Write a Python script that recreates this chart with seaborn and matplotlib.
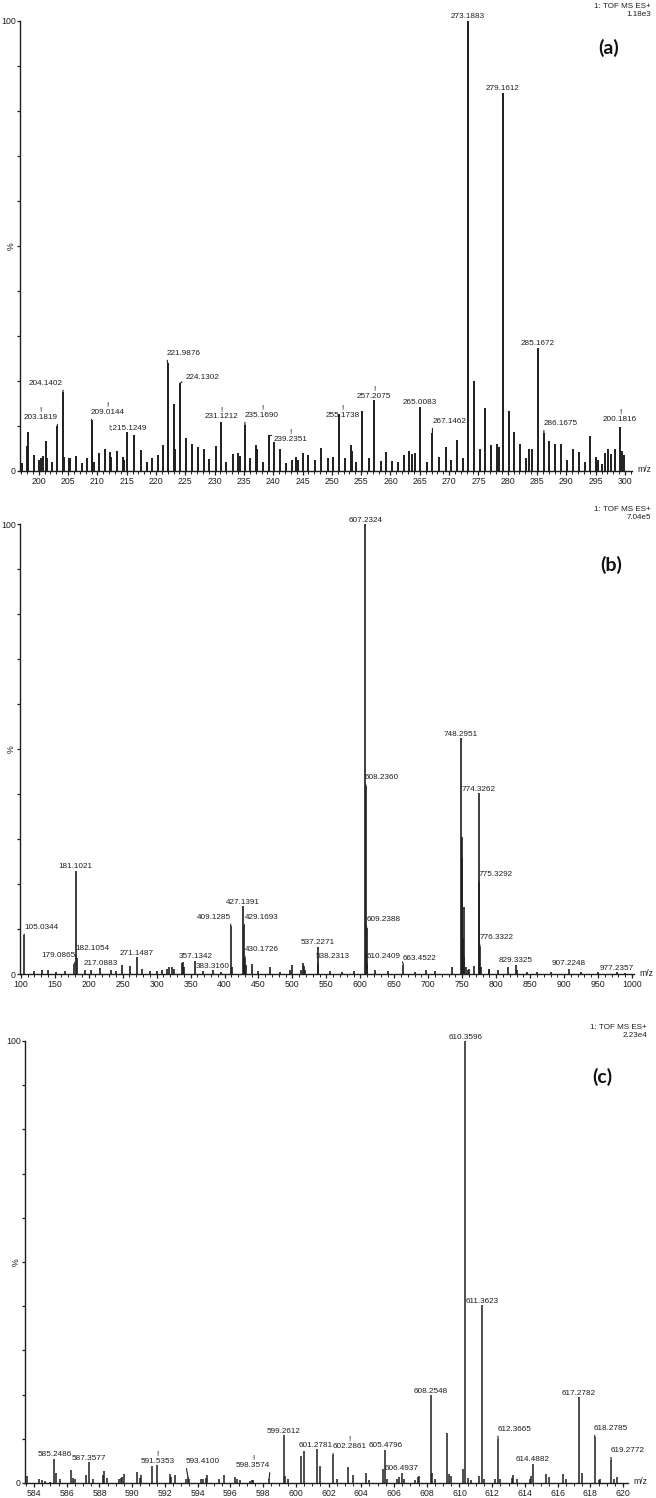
import matplotlib
matplotlib.use("Agg")
import matplotlib.pyplot as plt
import seaborn as sns
from matplotlib.ticker import MultipleLocator

# ---------------- panel (a) ----------------
a_mz = [197.2, 198.0, 198.1, 199.2, 200.0, 200.4, 200.8, 201.2, 201.4, 202.2,
        203.18, 204.14, 204.3, 205.1, 205.3, 206.3, 207.3, 208.3, 209.01, 209.1,
        209.4, 210.3, 211.3, 212.2, 212.4, 213.3, 214.3, 214.6, 215.12, 216.2,
        217.4, 218.4, 219.4, 220.4, 221.2, 221.99, 222.1, 223.0, 223.2, 224.13,
        225.2, 226.2, 227.2, 228.2, 229.1, 230.2, 231.12, 232.0, 233.2, 234.0,
        234.3, 235.17, 236.0, 237.1, 237.3, 238.2, 239.24, 240.2, 241.2, 242.1,
        243.2, 243.9, 244.2, 245.1, 246.0, 247.2, 248.2, 249.3, 250.2, 251.17,
        252.2, 253.2, 253.4, 254.2, 255.2, 256.3, 257.21, 258.3, 259.2, 260.3,
        261.3, 262.3, 263.2, 263.6, 264.1, 265.01, 266.3, 267.15, 268.3, 269.4,
        270.3, 271.3, 272.4, 273.19, 274.2, 275.2, 276.2, 277.2, 278.1, 278.5,
        279.16, 280.2, 281.1, 282.1, 283.2, 283.6, 284.2, 285.17, 286.17, 287.1,
        288.1, 289.1, 290.1, 291.1, 292.1, 293.1, 294.1, 295.1, 295.4, 296.1,
        296.6, 297.1, 297.6, 298.3, 299.18, 299.5, 299.9]
a_int = [1.7, 5.5, 8.7, 3.5, 2.4, 2.8, 3.3, 6.7, 2.8, 2.0,
         10.0, 17.6, 3.2, 2.8, 3.0, 3.3, 1.7, 2.8, 11.3, 5.5,
         2.0, 3.9, 5.0, 4.3, 3.2, 4.4, 3.2, 2.5, 8.7, 7.9,
         4.7, 2.1, 3.0, 3.6, 5.8, 24.0, 7.5, 15.0, 5.0, 19.5,
         7.3, 6.1, 5.4, 5.0, 2.6, 5.6, 11.0, 2.1, 3.8, 3.9,
         3.3, 10.2, 2.8, 5.8, 5.0, 2.1, 8.0, 6.5, 4.8, 1.7,
         2.4, 3.2, 2.5, 4.1, 3.6, 2.4, 5.2, 2.8, 3.2, 12.7,
         2.8, 5.8, 4.5, 2.1, 13.4, 2.8, 15.8, 2.2, 4.3, 2.2,
         2.1, 3.6, 4.4, 3.8, 3.9, 14.3, 2.1, 8.4, 3.2, 5.4,
         2.4, 7.0, 2.8, 100.0, 20.0, 5.0, 14.0, 5.8, 6.0, 5.3,
         84.0, 13.3, 8.6, 6.0, 3.0, 4.8, 5.0, 27.3, 8.4, 6.7,
         6.0, 6.0, 2.5, 4.8, 4.2, 2.0, 7.8, 3.2, 2.5, 1.5,
         4.0, 5.0, 3.8, 4.8, 9.7, 4.5, 3.5]
a_lab_mz = [203.18, 204.14, 209.01, 215.12, 221.99, 224.13, 231.12, 235.17,
            239.24, 251.17, 257.21, 265.01, 267.15, 273.19, 279.16, 285.17,
            286.17, 299.18]
a_lab_text = ["!\n203.1819", "204.1402", "!\n209.0144", "!;215.1249", "221.9876",
              "224.1302", "!\n231.1212", "!\n235.1690", "!\n239.2351",
              "!\n255.1738", "!\n257.2075", "265.0083", "267.1462", "273.1883",
              "279.1612", "285.1672", "286.1675", "!\n200.1816"]

# ---------------- panel (b) ----------------
b_mz = [105.03, 120, 131, 140, 152, 165, 179.09, 181.10, 182.11, 195, 203,
        217.09, 233, 240, 249, 261, 271.15, 279, 290, 300, 308, 315, 319, 323,
        326, 338, 339, 340, 357.13, 369, 383.32, 395, 409.13, 411, 427.14, 428,
        429.17, 430.17, 431, 440, 449, 467, 482, 497, 500, 513, 515, 517, 519,
        537.23, 538.23, 555, 573, 590, 607.23, 608.24, 609.24, 610.24, 622, 640,
        663.45, 680, 697, 710, 735, 748.30, 749.30, 750.30, 751.30, 752.30,
        753.30, 755, 758, 760, 767, 774.33, 775.33, 776.33, 777.3, 789, 790,
        803, 817, 829.33, 831, 845, 860, 880, 907.22, 925, 950, 977.24, 990]
b_int = [8.7, 0.6, 0.8, 1.0, 0.5, 0.6, 2.2, 23.0, 3.5, 0.8, 1.0,
         1.3, 0.8, 0.6, 2.0, 1.7, 3.8, 1.2, 0.6, 0.6, 1.0, 1.2, 1.6, 1.6,
         1.2, 2.5, 2.6, 1.5, 3.0, 0.6, 1.0, 0.5, 10.7, 1.5, 15.2, 3.0,
         10.6, 3.5, 2.0, 2.3, 0.6, 1.5, 0.5, 1.0, 2.0, 1.0, 2.4, 1.8, 1.0,
         6.0, 2.0, 0.6, 0.5, 0.6, 100.0, 41.8, 10.2, 2.0, 0.8, 0.6,
         2.0, 0.5, 0.8, 0.6, 1.5, 52.4, 25.8, 30.5, 8.0, 15.0,
         3.8, 1.5, 1.0, 1.2, 1.7, 40.2, 20.2, 6.0, 1.5, 1.2, 1.0,
         0.8, 1.5, 2.0, 1.0, 0.5, 0.5, 0.5, 1.2, 0.4, 0.4, 0.5, 0.3]
b_lab_mz = [105.03, 181.10, 182.11, 179.09, 217.09, 271.15, 357.13, 383.32,
            409.13, 427.14, 429.17, 430.17, 537.23, 538.23, 607.23, 608.24,
            609.24, 610.24, 663.45, 748.30, 774.33, 775.33, 776.33, 829.33,
            907.22, 977.24]
b_lab_text = ["105.0344", "181.1021", "182.1054", "179.0865", "217.0883",
              "271.1487", "357.1342", "383.3160", "409.1285", "427.1391",
              "429.1693", "430.1726", "537.2271", "538.2313", "607.2324",
              "608.2360", "609.2388", "610.2409", "663.4522", "748.2951",
              "774.3262", "775.3292", "776.3322", "829.3325", "907.2248",
              "977.2357"]

# ---------------- panel (c) ----------------
c_mz = [583.6, 584.3, 584.5, 584.7, 585.0, 585.25, 585.35, 585.6, 586.25, 586.4,
        586.5, 587.2, 587.36, 587.6, 588.2, 588.3, 588.45, 589.2, 589.3, 589.4,
        589.5, 590.3, 590.45, 590.55, 591.2, 591.54, 592.3, 592.4, 592.6, 593.3,
        593.41, 593.5, 594.2, 594.35, 594.5, 594.6, 595.3, 595.6, 596.3, 596.4,
        596.6, 597.2, 597.3, 597.4, 598.36, 599.26, 599.35, 599.5, 600.3, 600.5,
        601.28, 601.5, 602.29, 602.5, 603.2, 603.5, 604.3, 604.5, 605.3, 605.48,
        605.6, 606.2, 606.3, 606.49, 606.6, 607.3, 607.45, 607.5, 608.25, 608.35,
        608.5, 609.25, 609.35, 609.5, 610.2, 610.36, 610.5, 610.7, 611.2, 611.36,
        611.5, 612.2, 612.37, 612.5, 613.2, 613.3, 613.5, 614.3, 614.4, 614.49,
        615.3, 615.5, 616.3, 616.5, 617.28, 617.5, 618.28, 618.5, 618.6, 619.28,
        619.45, 619.6]
c_int = [1.5, 0.8, 0.6, 0.5, 0.3, 5.4, 2.3, 0.8, 3.0, 1.2,
         0.8, 1.7, 4.7, 0.9, 1.7, 2.8, 1.2, 0.8, 1.2, 1.3,
         2.0, 2.6, 1.2, 1.7, 3.8, 4.0, 2.0, 1.3, 1.8, 0.8,
         1.3, 1.0, 0.8, 1.0, 1.2, 1.7, 0.8, 1.7, 1.3, 0.9,
         0.6, 0.5, 0.6, 0.6, 0.8, 10.9, 1.5, 0.9, 6.2, 7.2,
         7.8, 3.8, 6.3, 1.0, 3.7, 1.8, 2.3, 0.7, 3.2, 7.5,
         1.0, 1.0, 1.3, 2.3, 0.8, 0.6, 1.3, 1.6, 19.9, 2.2,
         1.0, 11.3, 2.0, 1.5, 3.2, 100.0, 1.2, 0.6, 1.6, 40.3,
         1.0, 1.0, 10.0, 0.8, 1.2, 1.8, 0.8, 0.9, 1.5, 4.3,
         2.1, 1.4, 2.0, 1.0, 19.5, 2.3, 10.4, 0.6, 0.8, 5.2,
         1.0, 1.4]
c_lab_mz = [585.25, 587.36, 591.54, 593.41, 598.36, 599.26, 601.28, 602.29,
            605.48, 606.49, 608.25, 610.36, 611.36, 612.37, 614.49, 617.28,
            618.28, 619.28]
c_lab_text = ["585.2486", "587.3577", "!\n591.5353", "593.4100", "!\n598.3574",
              "599.2612", "601.2781", "!\n602.2861", "605.4796", "606.4937",
              "608.2548", "610.3596", "611.3623", "612.3665", "614.4882",
              "617.2782", "618.2785", "619.2772"]

headers = ["1: TOF MS ES+\n1.18e3", "1: TOF MS ES+\n7.04e5", "1: TOF MS ES+\n2.23e4"]
tags = ["(a)", "(b)", "(c)"]

# label placement: (dx px, dy px, connector start on text box or None)
a_lab_pos = [(-17, 5, (1, 0)), (-17, 5, (1, 0)), (16, 4, (0, 0)), (0, 1, None),
             (16, 6, (0, 0)), (22, 2, (0, 0.3)), (0, 1, None), (17, 6, (0, 0)),
             (22, -8, 'bracket'), (4, -5, None), (0, 0, None), (0, 1, None),
             (17, 8, (0, 0)), (0, 1, None), (0, 1, None), (0, 1, None),
             (17, 6, (0, 0)), (0, 4, None)]
b_lab_pos = [(17, 4, (0, 0)), (0, 0, None), (16, 6, (0, 0)), (-16, 5, (1, 0)),
             (0, 1, None), (0, 0, None), (0, 0, None), (0, 0, None),
             (-17, 5, (1, 0)), (0, 0, None), (17, 5, (0, 0)), (17, 5, (0, 0)),
             (0, 1, None), (14, 5, (0, 0)), (0, 0, None), (16, 5, (0, 0)),
             (17, 5, (0, 0)), (16, 5, (0, 0)), (16, 3, (0, 0)), (0, 0, None),
             (0, 0, None), (16, 5, (0, 0)), (16, 6, (0, 0)), (0, 1, None),
             (0, 2, None), (0, 0, None)]
c_lab_pos = [(0, 1, None), (0, 0, None), (0, 0, None), (15, 12, (0, 0)),
             (-16, 10, (1, 0)), (0, 0, None), (-1, 0, None), (16, 5, (0, 0)),
             (0, 1, None), (0, 1, None), (0, 0, None), (0, 0, None),
             (0, 0, None), (16, 6, (0, 0)), (0, 1, None), (0, 0, None),
             (16, 5, (0, 0)), (16, 6, (0, 0))]

W, H = 656, 1498


def draw_panel(ax, mz, inten, lab_mz, lab_text, lab_pos, xlim, major, minor, lw):
    ax.vlines(mz, 0, inten, colors='#1e1e1e', linewidth=lw)
    ax.set_xlim(*xlim)
    ax.set_ylim(0, 100)
    ax.xaxis.set_major_locator(MultipleLocator(major))
    ax.xaxis.set_minor_locator(MultipleLocator(minor))
    ax.set_yticks(range(0, 101, 10))
    ylab = [''] * 11
    ylab[0], ylab[5], ylab[10] = '0', '%', '100'
    ax.set_yticklabels(ylab)
    ax.get_yticklabels()[5].set_rotation(90)
    ax.tick_params(axis='x', which='major', length=3, width=0.9, pad=1.2,
                   labelsize=6.3, colors='#1e1e1e')
    ax.tick_params(axis='x', which='minor', length=1.8, width=0.7, colors='#1e1e1e')
    ax.tick_params(axis='y', which='major', length=2.5, width=0.9, pad=0.6,
                   labelsize=6.3, colors='#1e1e1e')
    sns.despine(ax=ax)
    for side in ['left', 'bottom']:
        ax.spines[side].set_linewidth(1.0)
        ax.spines[side].set_color('#1e1e1e')
    ax.annotate('m/z', xy=(1, 0), xycoords='axes fraction', xytext=(5, 1),
                textcoords='offset pixels', ha='left', va='center',
                fontsize=6.2, color='#1e1e1e', annotation_clip=False)

    for m, t, (dx, dy, rel) in zip(lab_mz, lab_text, lab_pos):
        h = inten[mz.index(m)]
        kw = dict(xy=(m, h), xytext=(dx, dy), textcoords='offset pixels',
                  ha='center', va='bottom', fontsize=5.9, linespacing=1.0,
                  color='#1e1e1e', annotation_clip=False)
        if rel == 'bracket':
            kw['arrowprops'] = dict(arrowstyle='-', lw=0.8, color='#1e1e1e',
                                    shrinkA=0, shrinkB=0, relpos=(0, 0.5),
                                    connectionstyle='angle,angleA=90,angleB=0,rad=0')
        elif rel is not None:
            kw['arrowprops'] = dict(arrowstyle='-', lw=0.8, color='#1e1e1e',
                                    shrinkA=0, shrinkB=0, relpos=rel)
        ax.annotate(t, **kw)


def main():
    sns.set_style("ticks")
    plt.rcParams['font.family'] = ['Liberation Sans', 'DejaVu Sans']

    fig = plt.figure(figsize=(W / 100, H / 100), dpi=100)

    ax_a = fig.add_axes([20 / W, 1 - 471 / H, 612 / W, 450 / H])
    ax_b = fig.add_axes([20 / W, 1 - 974 / H, 614 / W, 450 / H])
    ax_c = fig.add_axes([25 / W, 1 - 1483 / H, 603 / W, 442 / H])

    draw_panel(ax_a, a_mz, a_int, a_lab_mz, a_lab_text, a_lab_pos,
               (196.8, 301.2), 5, 1, 1.4)
    draw_panel(ax_b, b_mz, b_int, b_lab_mz, b_lab_text, b_lab_pos,
               (98.9, 1002.9), 50, 10, 1.2)
    draw_panel(ax_c, c_mz, c_int, c_lab_mz, c_lab_text, c_lab_pos,
               (583.45, 620.3), 2, 0.5, 1.1)

    # header text and panel tags, placed in figure pixels
    header_xy = [(651, 3), (651, 506), (647, 1024)]
    tag_xy = [(609, 48), (611, 565), (602, 1077)]
    for txt, (x, y) in zip(headers, header_xy):
        fig.text(x / W, 1 - y / H, txt, ha='right', va='top', fontsize=5.8,
                 linespacing=1.15, color='#1e1e1e')
    for txt, (x, y) in zip(tags, tag_xy):
        fig.text(x / W, 1 - y / H, txt, ha='center', va='center', fontsize=14,
                 fontweight='bold', family=['Lato', 'DejaVu Sans'], color='#111111')

    fig.savefig('out.png', dpi=100)


if __name__ == "__main__":
    main()
